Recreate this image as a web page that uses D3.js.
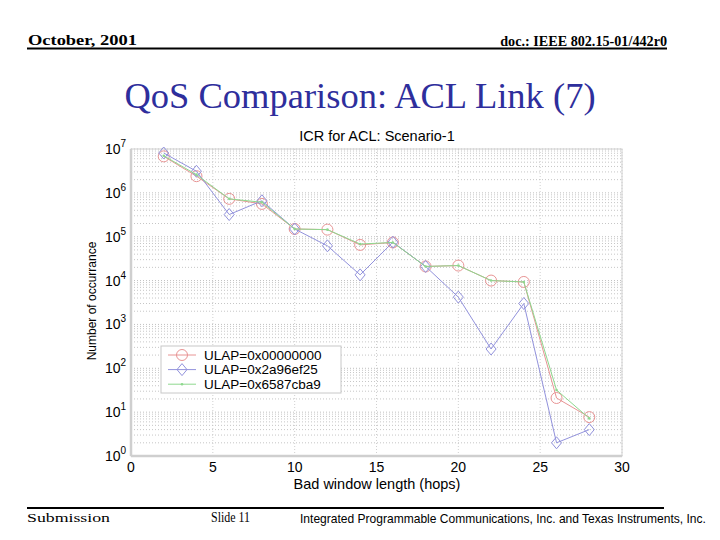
<!DOCTYPE html>
<html>
<head>
<meta charset="utf-8">
<script src="https://cdn.jsdelivr.net/npm/d3@7"></script>
<style>
  body { margin: 0; background: #fff; }
  svg { display: block; }
</style>
</head>
<body>
<div id="chart"></div>
<script>
// data
var hops = [2, 4, 6, 8, 10, 12, 14, 16, 18, 20, 22, 24, 26, 28];
var ulap0 = [6.8e6, 2.4e6, 7.3e5, 5.6e5, 1.5e5, 1.45e5, 6.5e4, 7.4e4, 2.1e4, 2.2e4, 1.0e4, 9.3e3, 21, 7.7];
var ulap1 = [8.1e6, 3.1e6, 3.2e5, 6.6e5, 1.5e5, 6.2e4, 1.35e4, 7.5e4, 2.1e4, 4.2e3, 275, 3.0e3, 2.0, 4.0];
var ulap2 = [7.0e6, 2.6e6, 7.3e5, 6.1e5, 1.5e5, 1.45e5, 6.8e4, 7.4e4, 2.1e4, 2.2e4, 1.0e4, 9.3e3, 32, 7.2];
var seriesNames = ['ULAP=0x00000000', 'ULAP=0x2a96ef25', 'ULAP=0x6587cba9'];
var xTicks = [0, 5, 10, 15, 20, 25, 30];
var yExps = [0, 1, 2, 3, 4, 5, 6, 7];

(function(){
var W = 720, H = 540;
var svg = d3.select('#chart').append('svg').attr('width', W).attr('height', H);
var serif = '"Liberation Serif", "Times New Roman", serif';
var sans = '"Liberation Sans", Arial, sans-serif';

// header/footer text squeezed to the width it has on the slide
function fitted(txt, px, py, size, width, anchor, bold, fam) {
  var t = svg.append('text')
    .attr('text-anchor', anchor || 'start')
    .attr('font-family', fam || serif).attr('font-size', size)
    .attr('font-weight', bold ? 'bold' : 'normal')
    .text(txt);
  var w = t.node().getComputedTextLength();
  t.attr('transform', 'translate(' + px + ',' + py + ') scale(' + (width / w) + ',1)');
}
fitted('October, 2001', 28, 45, 15, 109, 'start', true);
fitted('doc.: IEEE 802.15-01/442r0', 667, 46, 15, 167, 'end', true);
svg.append('line').attr('x1', 27).attr('x2', 667).attr('y1', 48.5).attr('y2', 48.5)
  .attr('stroke', '#000').attr('stroke-width', 2);

svg.append('text').attr('x', 360).attr('y', 108).attr('text-anchor', 'middle')
  .attr('font-family', serif).attr('font-size', 36.5)
  .attr('fill', '#2e2e9c')
  .text('QoS Comparison: ACL Link (7)');

svg.append('line').attr('x1', 27).attr('x2', 664).attr('y1', 508).attr('y2', 508)
  .attr('stroke', '#000').attr('stroke-width', 2);
fitted('Submission', 27, 522, 13, 83, 'start', false);
fitted('Slide 11', 211, 522, 14, 39, 'start', false);
fitted('Integrated Programmable Communications, Inc. and Texas Instruments, Inc.', 300, 523, 12, 406, 'start', false, sans);

// plot area
var pl = 131, pr = 622, pt = 149, pb = 456;
var x = d3.scaleLinear().domain([0, 30]).range([pl, pr]);
var y = d3.scaleLog().domain([1, 1e7]).range([pb, pt]);

var grid = svg.append('g');
// minor y grid
yExps.slice(0, -1).forEach(function(e){
  for (var k = 2; k <= 9; k++) {
    var v = k * Math.pow(10, e);
    grid.append('line').attr('x1', pl).attr('x2', pr)
      .attr('y1', y(v)).attr('y2', y(v))
      .attr('stroke', '#b8b8b8').attr('stroke-width', 0.8).attr('stroke-dasharray', '1,2');
  }
});
yExps.forEach(function(e){
  grid.append('line').attr('x1', pl).attr('x2', pr)
    .attr('y1', y(Math.pow(10, e))).attr('y2', y(Math.pow(10, e)))
    .attr('stroke', '#b0b0b0').attr('stroke-width', 0.8).attr('stroke-dasharray', '1,2');
});
xTicks.forEach(function(t){
  grid.append('line').attr('x1', x(t)).attr('x2', x(t))
    .attr('y1', pt).attr('y2', pb)
    .attr('stroke', '#c4c4c4').attr('stroke-width', 0.8).attr('stroke-dasharray', '1,2');
});

// frame
svg.append('rect').attr('x', pl).attr('y', pt).attr('width', pr - pl).attr('height', pb - pt)
  .attr('fill', 'none').attr('stroke', '#d0d0d0').attr('stroke-width', 1);
svg.append('line').attr('x1', pl).attr('x2', pl).attr('y1', pt).attr('y2', pb)
  .attr('stroke', '#cfcfcf').attr('stroke-width', 2.5);
svg.append('line').attr('x1', pl).attr('x2', pr).attr('y1', pb).attr('y2', pb)
  .attr('stroke', '#cfcfcf').attr('stroke-width', 2.5);

// tick labels
xTicks.forEach(function(t){
  svg.append('text').attr('x', x(t)).attr('y', 472).attr('text-anchor', 'middle')
    .attr('font-family', sans).attr('font-size', 14).text(t);
});
yExps.forEach(function(e){
  var tx = svg.append('text').attr('x', 105).attr('y', y(Math.pow(10, e)) + 5)
    .attr('font-family', sans).attr('font-size', 14);
  tx.append('tspan').text('10');
  tx.append('tspan').attr('dy', -7).attr('font-size', 10).text(e);
});

svg.append('text').attr('x', 377).attr('y', 141).attr('text-anchor', 'middle')
  .attr('font-family', sans).attr('font-size', 14.5).text('ICR for ACL: Scenario-1');
svg.append('text').attr('x', 377).attr('y', 489).attr('text-anchor', 'middle')
  .attr('font-family', sans).attr('font-size', 14.5).text('Bad window length (hops)');
svg.append('text').attr('transform', 'translate(96,301) rotate(-90)').attr('text-anchor', 'middle')
  .attr('font-family', sans).attr('font-size', 12).text('Number of occurrance');

// series
var colors = ['#e89494', '#9292dc', '#8ed88e'];
var all = [ulap0, ulap1, ulap2];
var line = d3.line().x(function(d){ return x(d[0]); }).y(function(d){ return y(d[1]); });

function marker(g, i, cx, cy) {
  if (i === 0) {
    g.append('circle').attr('cx', cx).attr('cy', cy).attr('r', 5.5)
      .attr('fill', 'none').attr('stroke', colors[0]).attr('stroke-width', 1);
  } else if (i === 1) {
    g.append('path').attr('d', 'M' + cx + ',' + (cy - 6) + 'L' + (cx + 5) + ',' + cy + 'L' + cx + ',' + (cy + 6) + 'L' + (cx - 5) + ',' + cy + 'Z')
      .attr('fill', 'none').attr('stroke', colors[1]).attr('stroke-width', 1);
  } else {
    g.append('circle').attr('cx', cx).attr('cy', cy).attr('r', 1.3).attr('fill', colors[2]);
  }
}

all.forEach(function(vals, i){
  var pts = hops.map(function(h, j){ return [h, vals[j]]; });
  var g = svg.append('g');
  g.append('path').attr('d', line(pts)).attr('fill', 'none')
    .attr('stroke', colors[i]).attr('stroke-width', 1);
  pts.forEach(function(p){ marker(g, i, x(p[0]), y(p[1])); });
});

// legend
var lg = svg.append('g');
lg.append('rect').attr('x', 161).attr('y', 346).attr('width', 180).attr('height', 47)
  .attr('fill', '#fff').attr('stroke', '#c8c8c8').attr('stroke-width', 1);
seriesNames.forEach(function(n, i){
  var ly = 355 + i * 14.6;
  lg.append('line').attr('x1', 168).attr('x2', 196).attr('y1', ly).attr('y2', ly)
    .attr('stroke', colors[i]).attr('stroke-width', 1);
  marker(lg, i, 182, ly);
  lg.append('text').attr('x', 204).attr('y', ly + 4.5)
    .attr('font-family', sans).attr('font-size', 13.5).text(n);
});
})();
</script>
</body>
</html>
